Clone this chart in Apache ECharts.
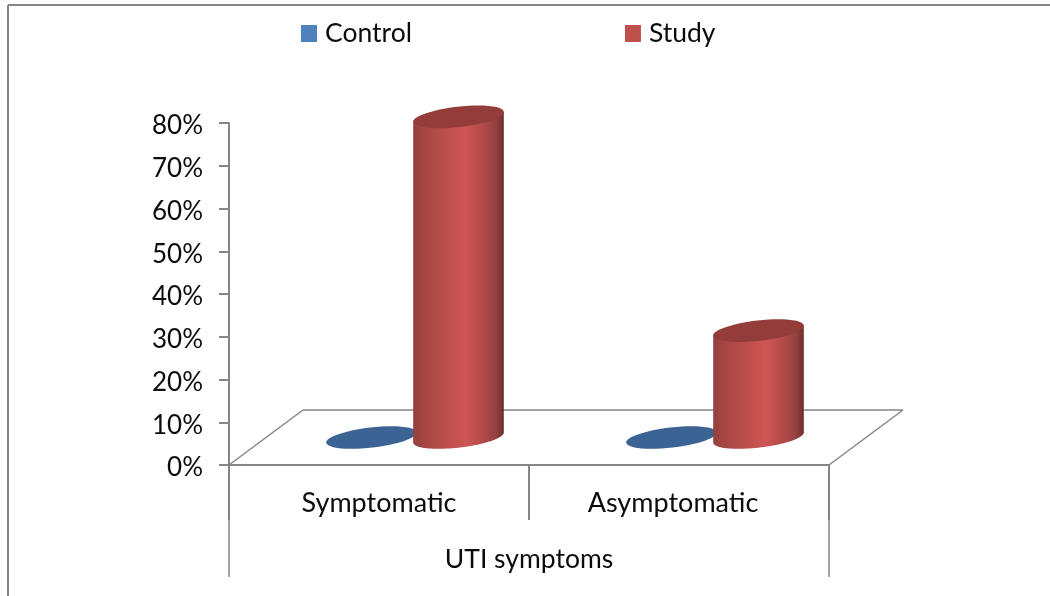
<!DOCTYPE html>
<html>
<head>
<meta charset="utf-8">
<style>
  html, body { margin: 0; padding: 0; background: #fff; }
  #main { width: 1050px; height: 596px; }
</style>
<script src="https://cdn.jsdelivr.net/npm/echarts@6/dist/echarts.min.js"></script>
</head>
<body>
<div id="main"></div>
<script>
var categories = ['Symptomatic', 'Asymptomatic']
var groupName = 'UTI symptoms'
var control = [0, 0]
var study = [75, 25]

var FONT = 'Lato'
var GREY = '#868686'
var TEXT = '#0c0c0c'
// 3d look, floor depth in pixels and cylinder ellipse
var depthX = 74, depthY = 55
var midX = 36
var barShift = 43.5
var ellA = 45.6, ellB = 10.1, ellAngle = 6.6 * Math.PI / 180

var redBody = {
    type: 'linear', x: 0, y: 0, x2: 1, y2: 0,
    colorStops: [
        { offset: 0, color: '#94403e' },
        { offset: 0.12, color: '#a54644' },
        { offset: 0.35, color: '#bb4e4b' },
        { offset: 0.58, color: '#cf5654' },
        { offset: 0.78, color: '#b04a48' },
        { offset: 0.92, color: '#904040' },
        { offset: 1, color: '#702e2d' }
    ]
}

function ellPoint(cx, cy, t) {
    var c = Math.cos(ellAngle), s = Math.sin(ellAngle)
    var a = ellA * Math.cos(t), b = ellB * Math.sin(t)
    return [cx + a * c + b * s, cy - a * s + b * c]
}

// t of the left and right edge of the tilted ellipse
var edgeT = Math.atan2(ellB * Math.sin(ellAngle), ellA * Math.cos(ellAngle))

function ellipseShape(cx, cy, color) {
    return {
        type: 'ellipse',
        x: cx, y: cy,
        rotation: ellAngle,
        shape: { cx: 0, cy: 0, rx: ellA, ry: ellB },
        style: { fill: color }
    }
}

function cylinderItem(side, topColor) {
    return function (params, api) {
        var base = api.coord([api.value(0), 0])
        var top = api.coord([api.value(0), api.value(1)])
        var cx = base[0] + midX + side * barShift
        var by = base[1] - depthY / 2
        var ty = top[1] - depthY / 2
        if (api.value(1) === 0) {
            return ellipseShape(cx, by, topColor)
        }
        var pts = []
        // lower edge of the bottom ellipse, right to left
        for (var i = 0; i <= 48; i++) {
            pts.push(ellPoint(cx, by, edgeT + (Math.PI * i) / 48))
        }
        pts.push(ellPoint(cx, ty, edgeT + Math.PI))
        pts.push(ellPoint(cx, ty, edgeT))
        return {
            type: 'group',
            children: [
                { type: 'polygon', shape: { points: pts }, style: { fill: redBody } },
                ellipseShape(cx, ty, topColor)
            ]
        }
    }
}

function lineEl(x1, y1, x2, y2, w) {
    return {
        type: 'line',
        shape: { x1: x1, y1: y1, x2: x2, y2: y2 },
        style: { stroke: GREY, lineWidth: w }
    }
}

function floorItem(params, api) {
    var band = api.size([1, 0])[0]
    var first = api.coord([0, 0])
    var left = first[0] - band / 2
    var right = left + band * categories.length
    var y = first[1]
    return {
        type: 'group',
        children: [
            lineEl(left, y, left + depthX, y - depthY, 1.5),
            lineEl(left + depthX, y - depthY, right + depthX, y - depthY, 1.5),
            lineEl(right + depthX, y - depthY, right, y, 1.5),
            // outer bracket of the group label
            lineEl(left, y, left, y + 112, 1.5),
            lineEl(right, y, right, y + 112, 1.5)
        ]
    }
}

function toData(values) {
    return values.map(function (v, i) { return [i, v] })
}

var Chart = echarts.init(document.getElementById('main'), null, { renderer: 'canvas' })
var option = {
    backgroundColor: '#fff',
    animation: false,
    textStyle: { fontFamily: FONT },
    grid: { left: 229, right: 221, top: 123, bottom: 131, containLabel: false },
    legend: {
        data: [
            { name: 'Control', icon: 'rect', itemStyle: { color: '#4f81bd' } },
            { name: 'Study', icon: 'rect', itemStyle: { color: '#c0504d' } }
        ],
        left: 301,
        top: 20,
        padding: 0,
        itemWidth: 16,
        itemHeight: 17,
        itemGap: 213,
        textStyle: { fontSize: 26.5, color: TEXT, fontFamily: FONT, padding: [0, 0, 0, 3] }
    },
    xAxis: {
        type: 'category',
        data: [
            categories[0],
            // this label sits a little left of its band in the source
            { value: categories[1], textStyle: { padding: [0, 12, 0, 0] } }
        ],
        name: groupName,
        nameLocation: 'middle',
        nameGap: 81,
        nameTextStyle: { fontSize: 26.5, color: TEXT, fontFamily: FONT },
        axisLine: { lineStyle: { color: GREY, width: 2 } },
        axisTick: { show: true, length: 55, lineStyle: { color: GREY, width: 2 } },
        axisLabel: { fontSize: 27, color: TEXT, margin: 25, fontFamily: FONT }
    },
    yAxis: {
        type: 'value',
        min: 0,
        max: 80,
        interval: 10,
        axisLine: { show: true, lineStyle: { color: GREY, width: 2 } },
        axisTick: { show: true, length: 10, lineStyle: { color: GREY, width: 2 } },
        splitLine: { show: false },
        axisLabel: {
            formatter: '{v|{value}%}',
            margin: 26,
            rich: { v: { fontSize: 26, color: TEXT, fontFamily: FONT, padding: [6, 0, 0, 0] } }
        }
    },
    series: [
        {
            name: 'floor',
            type: 'custom',
            silent: true,
            clip: false,
            z: 1,
            data: [[0, 0]],
            encode: { x: 0, y: 1 },
            renderItem: floorItem
        },
        {
            name: 'Control',
            type: 'custom',
            clip: false,
            z: 2,
            data: toData(control),
            encode: { x: 0, y: 1 },
            renderItem: cylinderItem(-1, '#3b6394')
        },
        {
            name: 'Study',
            type: 'custom',
            clip: false,
            z: 3,
            data: toData(study),
            encode: { x: 0, y: 1 },
            renderItem: cylinderItem(1, '#933c3a')
        }
    ],
    graphic: [
        // picture frame, top and left edge only
        { type: 'line', silent: true, shape: { x1: 8, y1: 5, x2: 1050, y2: 5 }, style: { stroke: GREY, lineWidth: 2 } },
        { type: 'line', silent: true, shape: { x1: 8, y1: 5, x2: 8, y2: 596 }, style: { stroke: GREY, lineWidth: 2 } }
    ]
}
Chart.setOption(option)
</script>
</body>
</html>
